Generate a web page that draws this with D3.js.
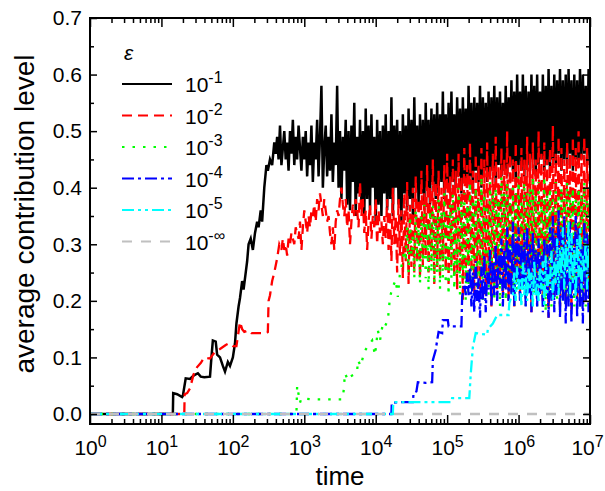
<!DOCTYPE html>
<html>
<head>
<meta charset="utf-8">
<script src="https://cdn.jsdelivr.net/npm/d3@7"></script>
<style>
  body { margin: 0; background: #fff; }
  text { font-family: "Liberation Sans", Arial, sans-serif; }
</style>
</head>
<body>
<script>
// exponents of time (log10 t) and values
// step parts are [log10 t, value]; noisy parts are sampled every 0.02 decade
var noiseStep = 0.02;

var blackSteps = [[0,0],[1.16,0],[1.165,0.037],[1.22,0.035],[1.29,0.03],[1.30,0.032],[1.34,0.063],[1.40,0.062],
  [1.45,0.068],[1.51,0.072],[1.55,0.066],[1.60,0.065],[1.68,0.066],[1.70,0.10],[1.72,0.13],[1.76,0.128],
  [1.78,0.105],[1.82,0.10],[1.86,0.085],[1.89,0.075],[1.93,0.092],[1.96,0.085],[2.00,0.10],[2.03,0.125],
  [2.05,0.16],[2.08,0.19],[2.10,0.205],[2.13,0.235],[2.15,0.22],[2.18,0.25],[2.20,0.27],[2.22,0.30],
  [2.25,0.31],[2.28,0.29],[2.31,0.32],[2.34,0.34],[2.36,0.33],[2.39,0.36],[2.41,0.34],[2.44,0.40],
  [2.47,0.44],[2.49,0.43],[2.52,0.45],[2.55,0.44],[2.58,0.48],[2.60,0.46]];
var blackNoiseStart = 2.62;
var blackNoise = [
  0.49,0.45,0.51,0.44,0.47,0.50,0.45,0.48,0.43,0.50,
  0.46,0.52,0.44,0.49,0.45,0.51,0.47,0.43,0.49,0.45,
  0.50,0.42,0.48,0.44,0.51,0.41,0.48,0.45,0.52,0.42,
  0.49,0.58,0.40,0.47,0.51,0.42,0.49,0.43,0.53,0.41,
  0.48,0.44,0.58,0.40,0.50,0.38,0.49,0.43,0.52,0.37,
  0.50,0.36,0.51,0.41,0.55,0.35,0.49,0.39,0.52,0.37,
  0.50,0.35,0.54,0.38,0.51,0.36,0.53,0.40,0.49,0.34,
  0.52,0.37,0.50,0.35,0.51,0.39,0.53,0.36,0.50,0.38,
  0.56,0.35,0.51,0.40,0.52,0.37,0.50,0.34,0.53,0.39,
  0.51,0.36,0.54,0.38,0.52,0.35,0.56,0.40,0.51,0.37,
  0.53,0.39,0.52,0.36,0.55,0.40,0.52,0.37,0.54,0.41,
  0.53,0.38,0.55,0.39,0.53,0.41,0.57,0.38,0.53,0.40,
  0.55,0.39,0.57,0.41,0.53,0.40,0.56,0.42,0.54,0.39,
  0.56,0.41,0.54,0.40,0.58,0.42,0.55,0.39,0.56,0.43,
  0.55,0.41,0.58,0.40,0.56,0.43,0.55,0.41,0.57,0.42,
  0.56,0.43,0.58,0.41,0.56,0.44,0.57,0.42,0.55,0.43,
  0.58,0.42,0.56,0.44,0.59,0.43,0.57,0.41,0.60,0.44,
  0.57,0.43,0.60,0.42,0.58,0.44,0.57,0.43,0.60,0.45,
  0.58,0.42,0.60,0.44,0.57,0.45,0.60,0.43,0.58,0.44,
  0.61,0.43,0.58,0.45,0.60,0.44,0.59,0.46,0.61,0.43,
  0.59,0.45,0.60,0.44,0.61,0.46,0.59,0.43,0.60,0.45,
  0.59,0.44,0.61,0.45,0.60,0.46,0.58,0.44,0.61,0.45];

var redSteps = [[0,0],[1.32,0],[1.325,0.035],[1.36,0.037],[1.40,0.045],[1.45,0.07],[1.50,0.083],[1.55,0.09],
  [1.60,0.10],[1.68,0.098],[1.75,0.11],[1.82,0.115],[1.90,0.122],[1.95,0.125],[2.00,0.12],[2.05,0.12],
  [2.10,0.163],[2.13,0.15],[2.16,0.145],[2.22,0.148],[2.26,0.143],[2.35,0.143],[2.47,0.143],[2.49,0.145],
  [2.50,0.20],[2.52,0.21],[2.55,0.235],[2.58,0.25],[2.62,0.275],[2.65,0.30],[2.68,0.29],[2.70,0.31]];
var redNoiseStart = 2.72;
var redNoise = [
  0.29,0.30,0.28,0.31,0.30,0.32,0.31,0.30,0.33,0.32,
  0.31,0.34,0.29,0.33,0.36,0.34,0.32,0.35,0.33,0.36,
  0.35,0.37,0.34,0.38,0.36,0.39,0.37,0.35,0.38,0.36,
  0.34,0.35,0.32,0.30,0.33,0.29,0.34,0.36,0.35,0.38,
  0.40,0.37,0.35,0.38,0.33,0.36,0.30,0.34,0.37,0.35,
  0.38,0.36,0.33,0.41,0.35,0.38,0.32,0.36,0.29,0.34,
  0.37,0.31,0.35,0.33,0.38,0.30,0.36,0.32,0.34,0.30,
  0.35,0.31,0.38,0.29,0.36,0.27,0.40,0.30,0.35,0.25,
  0.38,0.28,0.36,0.24,0.39,0.27,0.41,0.23,0.37,0.26,
  0.40,0.25,0.42,0.27,0.38,0.24,0.43,0.26,0.39,0.28,
  0.44,0.25,0.40,0.27,0.45,0.23,0.41,0.26,0.43,0.24,
  0.40,0.27,0.44,0.25,0.46,0.23,0.42,0.26,0.45,0.24,
  0.43,0.22,0.46,0.25,0.42,0.20,0.47,0.24,0.44,0.23,
  0.48,0.25,0.43,0.21,0.46,0.24,0.44,0.22,0.47,0.25,
  0.45,0.21,0.48,0.24,0.44,0.19,0.46,0.23,0.49,0.22,
  0.44,0.24,0.47,0.21,0.45,0.23,0.50,0.20,0.46,0.22,
  0.45,0.19,0.48,0.23,0.44,0.21,0.47,0.24,0.45,0.20,
  0.49,0.22,0.46,0.18,0.48,0.23,0.45,0.21,0.50,0.22,
  0.46,0.20,0.48,0.24,0.45,0.17,0.47,0.22,0.51,0.21,
  0.46,0.23,0.49,0.19,0.47,0.22,0.45,0.20,0.48,0.23,
  0.46,0.18,0.49,0.22,0.47,0.20,0.50,0.21,0.46,0.23,
  0.49,0.20,0.47,0.22,0.46];

var greenSteps = [[0,0],[2.89,0],[2.90,0.05],[2.92,0.035],[2.94,0.02],[2.96,0.028],[3.10,0.026],[3.30,0.026],
  [3.53,0.026],[3.55,0.04],[3.57,0.072],[3.61,0.06],[3.64,0.066],[3.70,0.07],[3.74,0.075],[3.75,0.095],
  [3.79,0.085],[3.84,0.11],[3.89,0.12],[3.95,0.13],[3.99,0.104],[4.03,0.148],[4.06,0.13],[4.10,0.16],
  [4.13,0.155],[4.17,0.166],[4.20,0.207],[4.24,0.225],[4.28,0.237],[4.31,0.207],[4.34,0.25],[4.37,0.267],
  [4.40,0.29]];
var greenNoiseStart = 4.42;
var greenNoise = [
  0.27,0.33,0.25,0.35,0.28,0.32,0.24,0.36,0.27,0.33,
  0.23,0.35,0.26,0.37,0.24,0.34,0.22,0.36,0.25,0.37,
  0.23,0.35,0.25,0.38,0.22,0.36,0.24,0.39,0.23,0.35,
  0.21,0.37,0.24,0.39,0.22,0.36,0.25,0.40,0.21,0.38,
  0.24,0.39,0.20,0.37,0.23,0.41,0.22,0.38,0.24,0.40,
  0.21,0.38,0.23,0.42,0.20,0.39,0.24,0.37,0.21,0.41,
  0.22,0.39,0.20,0.40,0.23,0.38,0.19,0.42,0.22,0.39,
  0.20,0.41,0.23,0.38,0.21,0.40,0.19,0.39,0.22,0.42,
  0.20,0.38,0.22,0.41,0.19,0.39,0.23,0.40,0.20,0.42,
  0.21,0.39,0.19,0.41,0.22,0.38,0.20,0.42,0.18,0.39,
  0.21,0.40,0.19,0.38,0.22,0.41,0.20,0.39,0.18,0.40,
  0.21,0.38,0.19,0.41,0.20,0.39,0.22,0.40,0.19,0.38,
  0.21,0.40,0.19,0.39,0.20,0.41,0.19,0.38,0.21,0.39];

var blueSteps = [[0,0],[4.22,0],[4.225,0.02],[4.35,0.021],[4.52,0.021],[4.53,0.037],[4.57,0.04],[4.59,0.056],
  [4.70,0.055],[4.79,0.056],[4.80,0.095],[4.84,0.113],[4.86,0.13],[4.88,0.145],[4.93,0.143],[4.94,0.166],
  [5.01,0.166],[5.02,0.155],[5.20,0.155],[5.21,0.207],[5.24,0.23],[5.26,0.21],[5.28,0.25]];
var blueNoiseStart = 5.30;
var blueNoise = [
  0.21,0.26,0.19,0.25,0.18,0.27,0.20,0.24,0.17,0.26,
  0.20,0.28,0.18,0.25,0.22,0.29,0.19,0.27,0.21,0.30,
  0.20,0.28,0.23,0.31,0.19,0.29,0.22,0.33,0.20,0.30,
  0.21,0.34,0.19,0.31,0.23,0.33,0.20,0.30,0.22,0.32,
  0.19,0.33,0.21,0.30,0.18,0.32,0.22,0.29,0.19,0.31,
  0.21,0.28,0.18,0.31,0.22,0.30,0.17,0.33,0.20,0.35,
  0.18,0.32,0.21,0.36,0.17,0.33,0.20,0.35,0.16,0.32,
  0.19,0.34,0.16,0.31,0.21,0.35,0.17,0.33,0.19,0.30,
  0.16,0.34,0.20,0.32,0.18,0.31];

var cyanSteps = [[0,0],[4.24,0],[4.245,0.021],[5.06,0.021],[5.07,0.028],[5.31,0.028],[5.33,0.07],[5.36,0.118],
  [5.40,0.143],[5.56,0.14],[5.57,0.15],[5.64,0.16],[5.70,0.175],[5.86,0.175],[5.87,0.196],[5.90,0.207]];
var cyanNoiseStart = 5.92;
var cyanNoise = [
  0.21,0.25,0.20,0.26,0.22,0.24,0.19,0.27,0.21,0.25,
  0.20,0.26,0.22,0.25,0.19,0.27,0.21,0.24,0.20,0.26,
  0.22,0.27,0.19,0.28,0.21,0.25,0.23,0.29,0.20,0.27,
  0.23,0.31,0.21,0.29,0.24,0.33,0.22,0.30,0.25,0.34,
  0.21,0.32,0.23,0.29,0.20,0.31,0.24,0.33,0.22,0.28,
  0.25,0.31,0.22,0.30,0.26];

var graySteps = [[0,0],[7,0]];

var legendLabels = ['-1','-2','-3','-4','-5','-\u221e'];
var xMajor = [1,10,100,1000,1e4,1e5,1e6,1e7];
var yMajor = [0,0.1,0.2,0.3,0.4,0.5,0.6,0.7];

var width = 605, height = 491;
var margin = {left: 90, right: 15, top: 18, bottom: 67};
var w = width - margin.left - margin.right, h = height - margin.top - margin.bottom;

function build(steps, start, noise) {
  var pts = steps.map(function(d) { return {t: Math.pow(10, d[0]), v: d[1]}; });
  (noise || []).forEach(function(v, i) {
    pts.push({t: Math.pow(10, start + i * noiseStep), v: v});
  });
  return pts;
}

var series = [
  {pts: build(blackSteps, blackNoiseStart, blackNoise), color: '#000000', dash: null, sw: 2.5},
  {pts: build(redSteps, redNoiseStart, redNoise), color: '#ff0000', dash: '10,6', sw: 2.3},
  {pts: build(greenSteps, greenNoiseStart, greenNoise), color: '#00ff00', dash: '2.5,8', sw: 2.3},
  {pts: build(blueSteps, blueNoiseStart, blueNoise), color: '#0000ff', dash: '12,4,3,4', sw: 2.3},
  {pts: build(cyanSteps, cyanNoiseStart, cyanNoise), color: '#00ffff', dash: '12,4,3,4,3,4', sw: 2.3},
  {pts: build(graySteps), color: '#c0c0c0', dash: '10,9', sw: 2.3}
];

var svg = d3.select('body').append('svg')
  .attr('width', width)
  .attr('height', height);

var g = svg.append('g')
  .attr('transform', 'translate(' + margin.left + ',' + margin.top + ')');

var x = d3.scaleLog().domain([1, 1e7]).range([0, w]);
var y = d3.scaleLinear().domain([-0.0177, 0.7]).range([h, 0]);

g.append('clipPath').attr('id', 'clip')
  .append('rect').attr('width', w).attr('height', h);

var line = d3.line()
  .x(function(d) { return x(d.t); })
  .y(function(d) { return y(d.v); });

var plot = g.append('g').attr('clip-path', 'url(#clip)');
series.forEach(function(s) {
  plot.append('path')
    .datum(s.pts)
    .attr('d', line)
    .attr('fill', 'none')
    .attr('stroke', s.color)
    .attr('stroke-width', s.sw)
    .attr('stroke-dasharray', s.dash);
});

// minor log ticks
var xMinor = [];
xMajor.slice(0, -1).forEach(function(p) {
  for (var k = 2; k <= 9; k++) xMinor.push(p * k);
});
var yMinor = [0.05,0.15,0.25,0.35,0.45,0.55,0.65];

function clean(sel) { sel.select('.domain').remove(); sel.selectAll('line').attr('stroke-width', 1.5); }

g.append('g').attr('transform', 'translate(0,' + h + ')')
  .call(d3.axisBottom(x).tickValues(xMinor).tickSize(-5).tickFormat(''))
  .call(clean);
var xb = g.append('g').attr('transform', 'translate(0,' + h + ')')
  .call(d3.axisBottom(x).tickValues(xMajor).tickSize(-9).tickPadding(16).tickFormat(''))
  .call(clean);
xb.selectAll('.tick text')
  .attr('font-size', 21).attr('fill', '#000')
  .attr('dx', function(d) { return d === 1e7 ? -3 : 0; })
  .each(function(d) {
    var t = d3.select(this);
    t.append('tspan').text('10');
    t.append('tspan').attr('font-size', 16).attr('dy', -8).text(Math.round(Math.log10(d)));
  });

g.append('g')
  .call(d3.axisTop(x).tickValues(xMinor).tickSize(-5).tickFormat(''))
  .call(clean);
g.append('g')
  .call(d3.axisTop(x).tickValues(xMajor).tickSize(-9).tickFormat(''))
  .call(clean);

g.append('g')
  .call(d3.axisLeft(y).tickValues(yMinor).tickSize(-4).tickFormat(''))
  .call(clean);
g.append('g')
  .call(d3.axisLeft(y).tickValues(yMajor).tickSize(-7).tickPadding(8).tickFormat(d3.format('.1f')))
  .call(clean)
  .selectAll('text').attr('font-size', 21).attr('fill', '#000');

g.append('g').attr('transform', 'translate(' + w + ',0)')
  .call(d3.axisRight(y).tickValues(yMinor).tickSize(-4).tickFormat(''))
  .call(clean);
g.append('g').attr('transform', 'translate(' + w + ',0)')
  .call(d3.axisRight(y).tickValues(yMajor).tickSize(-7).tickFormat(''))
  .call(clean);

g.append('rect')
  .attr('width', w).attr('height', h)
  .attr('fill', 'none').attr('stroke', '#000').attr('stroke-width', 2);

// axis titles
svg.append('text')
  .attr('x', 340).attr('y', 485)
  .attr('text-anchor', 'middle')
  .attr('font-size', 26)
  .text('time');

svg.append('text')
  .attr('transform', 'translate(34,214) rotate(-90)')
  .attr('text-anchor', 'middle')
  .attr('font-size', 28)
  .text('average contribution level');

// legend
var legend = svg.append('g');
legend.append('text')
  .attr('x', 124).attr('y', 60)
  .attr('font-family', '"Liberation Serif", serif')
  .attr('font-style', 'italic')
  .attr('font-size', 21)
  .text('\u03b5');

series.forEach(function(s, i) {
  var ly = 84 + i * 31.5;
  legend.append('line')
    .attr('x1', 122).attr('x2', 172)
    .attr('y1', ly).attr('y2', ly)
    .attr('stroke', s.color)
    .attr('stroke-width', 2)
    .attr('stroke-dasharray', s.dash);
  var t = legend.append('text')
    .attr('x', 185).attr('y', ly + 8)
    .attr('font-size', 21);
  t.append('tspan').text('10');
  t.append('tspan').attr('font-size', 16).attr('dy', -9).text(legendLabels[i]);
});
</script>
</body>
</html>
